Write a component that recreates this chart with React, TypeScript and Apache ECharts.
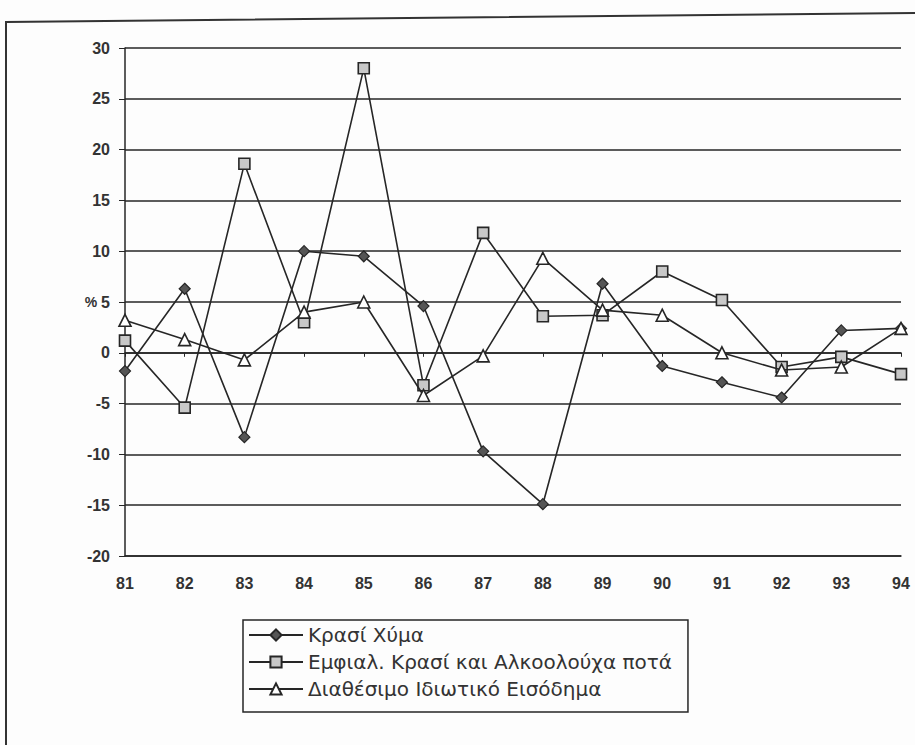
import React, { useEffect, useRef } from "react";
import * as echarts from "echarts";

const years = ["81", "82", "83", "84", "85", "86", "87", "88", "89", "90", "91", "92", "93", "94"];
const krasiXyma = [-1.8, 6.3, -8.3, 10.0, 9.5, 4.6, -9.7, -14.9, 6.8, -1.3, -2.9, -4.4, 2.2, 2.4];
const emfial = [1.2, -5.4, 18.6, 3.0, 28.0, -3.2, 11.8, 3.6, 3.7, 8.0, 5.2, -1.4, -0.4, -2.1];
const eisodima = [3.2, 1.3, -0.7, 4.0, 5.0, -4.2, -0.3, 9.3, 4.2, 3.7, 0.0, -1.7, -1.4, 2.4];
const seriesNames = [
  "Κρασί Χύμα",
  "Εμφιαλ. Κρασί και Αλκοολούχα ποτά",
  "Διαθέσιμο Ιδιωτικό Εισόδημα",
];

const INK = "#262626";

export default function App() {
  const ref = useRef<HTMLDivElement>(null);
  useEffect(() => {
    if (!ref.current) return;
    const chart = echarts.init(ref.current, undefined, { renderer: "svg" });
    const labelFont = {
      color: "#333",
      fontFamily: "Liberation Sans, Arial, sans-serif",
      fontWeight: "bold" as const,
      fontSize: 16,
    };
    chart.setOption({
      animation: false,
      backgroundColor: "#fdfdfd",
      grid: { left: 125, right: 14, top: 48, bottom: 189 },
      legend: {
        orient: "vertical",
        left: 243,
        top: 620,
        padding: [4, 16, 12, 5],
        borderColor: INK,
        borderWidth: 1.5,
        itemWidth: 54,
        itemHeight: 14,
        itemGap: 5,
        textStyle: {
          color: "#333",
          fontFamily: "DejaVu Sans, sans-serif",
          fontSize: 20,
          lineHeight: 22,
        },
        data: seriesNames,
      },
      graphic: [
        {
          type: "polyline",
          shape: { points: [[6, 745], [6, 22], [915, 13]] },
          style: { stroke: "#333", lineWidth: 2, fill: "none" },
          silent: true,
        },
      ],
      xAxis: [
        {
          type: "category",
          data: years,
          boundaryGap: false,
          axisLine: { onZero: false, show: true, lineStyle: { color: INK, width: 1.5 } },
          axisTick: { show: false },
          axisLabel: { ...labelFont, margin: 19 },
          splitLine: { show: false },
        },
        {
          type: "category",
          data: years,
          boundaryGap: false,
          position: "bottom",
          axisLine: { onZero: true, show: true, lineStyle: { color: INK, width: 1.5 } },
          axisTick: { show: true, length: 4, lineStyle: { color: INK } },
          axisLabel: { show: false },
          splitLine: { show: false },
        },
      ],
      yAxis: {
        type: "value",
        min: -20,
        max: 30,
        interval: 5,
        name: "%",
        nameLocation: "middle",
        nameGap: 34,
        nameRotate: 0,
        nameMoveOverlap: false,
        nameTextStyle: { ...labelFont, fontSize: 14, align: "center" },
        axisLine: { show: true, lineStyle: { color: INK, width: 1.5 } },
        axisTick: { show: true, length: 6, lineStyle: { color: INK } },
        axisLabel: { ...labelFont, margin: 15 },
        splitLine: { show: true, lineStyle: { color: INK, width: 1.6 } },
      },
      series: [
        {
          name: seriesNames[0],
          type: "line",
          data: krasiXyma,
          symbol: "diamond",
          symbolSize: 11,
          itemStyle: { color: "#555", borderColor: INK, borderWidth: 1.2 },
          lineStyle: { color: INK, width: 1.6 },
          z: 3,
        },
        {
          name: seriesNames[1],
          type: "line",
          data: emfial,
          symbol: "rect",
          symbolSize: 11,
          itemStyle: { color: "#c8c8c8", borderColor: INK, borderWidth: 1.6 },
          lineStyle: { color: INK, width: 1.6 },
          z: 4,
        },
        {
          name: seriesNames[2],
          type: "line",
          data: eisodima,
          symbol: "triangle",
          symbolSize: 12,
          itemStyle: { color: "#ffffff", borderColor: INK, borderWidth: 1.6 },
          lineStyle: { color: INK, width: 1.6 },
          z: 5,
        },
      ],
    });
    return () => chart.dispose();
  }, []);
  return <div ref={ref} style={{ width: 915, height: 745, position: "absolute", left: 0, top: 0 }} />;
}
